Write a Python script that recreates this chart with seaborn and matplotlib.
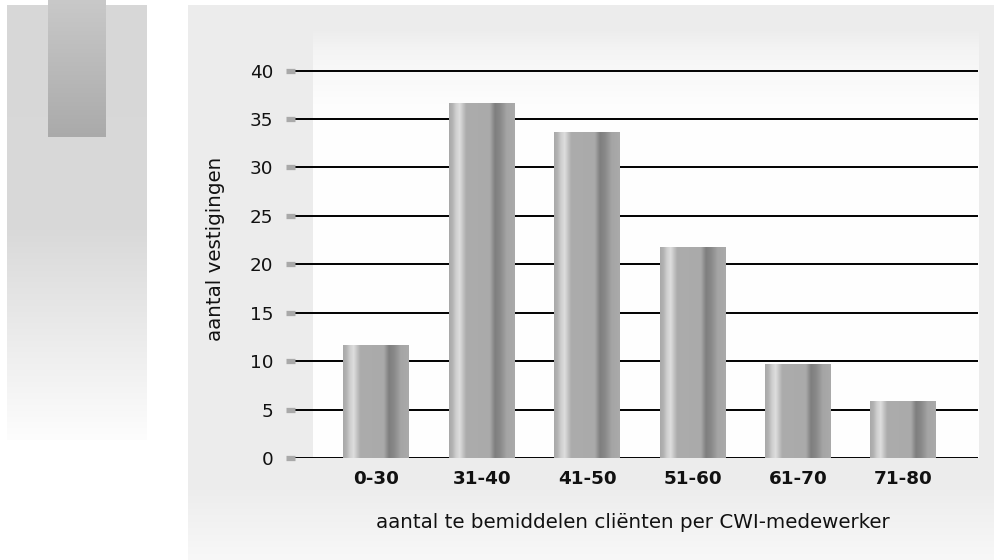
import numpy as np
import matplotlib
matplotlib.use("Agg")
import matplotlib.pyplot as plt
import seaborn as sns

# ---- data ----
categories = ["0-30", "31-40", "41-50", "51-60", "61-70", "71-80"]
values = [11.7, 36.7, 33.7, 21.8, 9.7, 5.9]
yticks = [0, 5, 10, 15, 20, 25, 30, 35, 40]
xlabel = "aantal te bemiddelen cliënten per CWI-medewerker"
ylabel = "aantal vestigingen"

sns.set_theme(style="white")
plt.rcParams["font.family"] = ["DejaVu Sans"]

W, H = 997, 560
FS = 13.2
LFS = 14.3
fig = plt.figure(figsize=(W / 100, H / 100), dpi=100)
fig.patch.set_facecolor("white")

# ---- decorative background (pixel coordinates) ----
bg = fig.add_axes([0, 0, 1, 1], zorder=0)
bg.axis("off")


def vgrad(x0, x1, y0, y1, ys, levels):
    yy = np.arange(y0, y1) + 0.5
    g = np.interp(yy, ys, levels) / 255.0
    img = np.repeat(g[:, None], 2, axis=1)
    img = np.dstack([img, img, img])
    bg.imshow(img, extent=(x0, x1, y1, y0), aspect="auto",
              interpolation="bilinear", zorder=0)


# left panel
vgrad(7, 146, 5, 440, [5, 230, 440], [215, 217, 253])
# dark block on left panel
vgrad(48, 105, 0, 137, [0, 137], [201, 170])
# main panel
vgrad(188, 993, 5, 560, [5, 490, 560], [236, 237, 248])
# inner plot gradient
vgrad(313, 978, 28, 458, [28, 50, 70, 85, 110, 458],
      [236, 244, 248, 250, 254, 255])

bg.set_xlim(0, W)
bg.set_ylim(H, 0)

# ---- main axes ----
ax = fig.add_axes([295 / W, 1 - 458 / H, (978 - 295) / W, (458 - 28) / H],
                  zorder=1)
ax.patch.set_alpha(0)

sns.barplot(x=categories, y=values, ax=ax, width=0.626,
            color="#aaaaaa", saturation=1, zorder=3)

# cylinder shading on each bar
profile_x = [0.0, 0.05, 0.10, 0.16, 0.26, 0.62, 0.70, 0.78, 0.88, 1.0]
profile_v = [168, 178, 205, 222, 172, 170, 126, 138, 165, 170]
xs = np.linspace(0, 1, 200)
shade = np.interp(xs, profile_x, profile_v) / 255.0
shade_img = np.dstack([shade[None, :]] * 3)
for p in ax.patches:
    x0 = p.get_x()
    w = p.get_width()
    h = p.get_height()
    im = ax.imshow(shade_img, extent=(x0, x0 + w, 0, h), aspect="auto",
                   interpolation="bilinear", zorder=3)
    im.set_clip_path(p)
    p.set_facecolor("none")
    p.set_edgecolor("none")

ax.set_xlim(-0.773, 5.707)
ax.set_ylim(0, 44.4)
ax.set_yticks(yticks)
ax.set_yticklabels([str(t) for t in yticks])
ax.set_xticks(range(len(categories)))
ax.set_xticklabels(categories, fontweight="bold")

# grid lines
ax.yaxis.grid(True, color="#000000", linewidth=1.4, zorder=1)
ax.xaxis.grid(False)
ax.set_axisbelow(True)
for s in ax.spines.values():
    s.set_visible(False)

ax.tick_params(axis="y", left=True, direction="out", length=6.8, width=3.8,
               color="#a9a9a9", pad=9, labelsize=FS, labelcolor="#111111")
ax.tick_params(axis="x", bottom=False, length=0, pad=9, labelsize=FS,
               labelcolor="#111111")

ax.set_xlabel("")
ax.set_ylabel("")
fig.text(633 / W, 1 - 522 / H, xlabel, fontsize=LFS, color="#111111",
         ha="center", va="center")
fig.text(215 / W, 1 - 249 / H, ylabel, fontsize=LFS, color="#111111",
         ha="center", va="center", rotation=90)

fig.savefig("out.png", dpi=100)
